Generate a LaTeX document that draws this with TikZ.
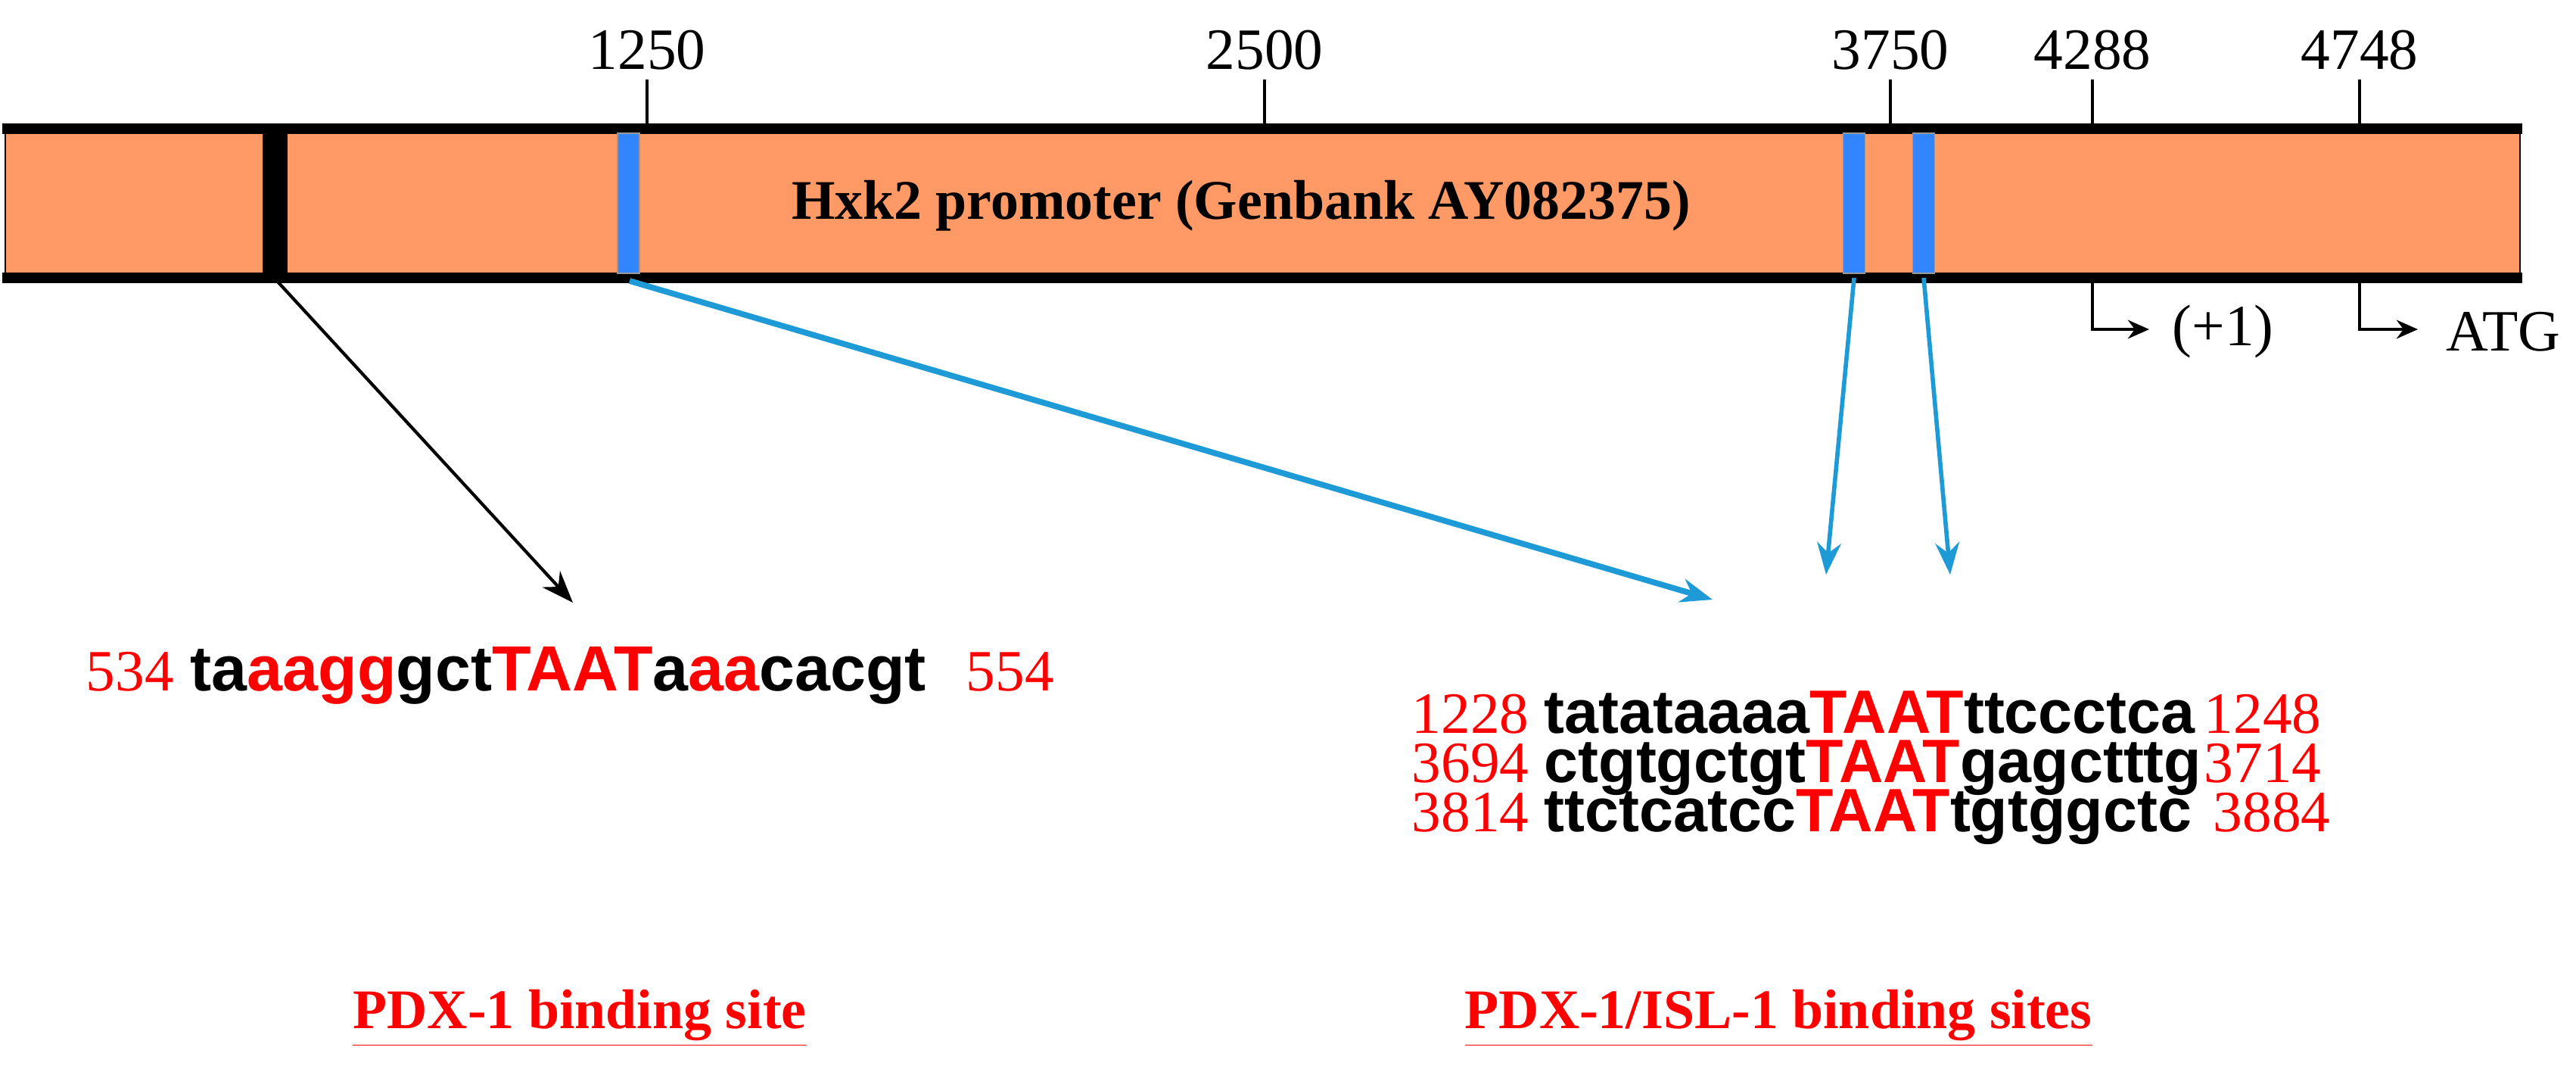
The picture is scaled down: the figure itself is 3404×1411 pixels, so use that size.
\documentclass[tikz,border=0pt]{standalone}
\usepackage{fontspec}
\usetikzlibrary{arrows.meta}
\setmainfont{Liberation Serif}
\setsansfont{Liberation Sans}
\begin{document}
\begin{tikzpicture}[x=0.01cm,y=-0.01cm,
  num/.style={font=\fontsize{22}{24}\selectfont, inner sep=0},
  rnum/.style={font=\fontsize{22}{24}\selectfont, text=red, inner sep=0},
  seq/.style={font=\sffamily\bfseries\fontsize{23}{26}\selectfont, inner sep=0},
  tick/.style={line width=1.3pt},
  blu/.style={draw=black!40, fill=blue!60!cyan!80, line width=0.3pt},
  ptr/.style={-{Stealth[length=12pt,width=9pt]}}]
\useasboundingbox (0,0) rectangle (3404,1411);
\definecolor{org}{HTML}{FF9966}
\definecolor{arblue}{HTML}{1E9BD7}
% bar
\fill[org] (7,170) rectangle (3330,367);
\draw[line width=0.6pt] (7,170) -- (7,367) (3330,170) -- (3330,367);
\draw[line width=4pt] (3,170) -- (3333,170) (3,367) -- (3333,367);
\fill[black] (347,170) rectangle (380,367);
\draw[blu] (816,176) rectangle (845,361);
\draw[blu] (2435,176) rectangle (2464,361);
\draw[blu] (2527,176) rectangle (2556,361);
\node[font=\bfseries\fontsize{21}{23}\selectfont] (t) at (1640,272) {Hxk2 promoter (Genbank AY082375)};
% ticks
\foreach \x/\l in {855/1250,1671/2500,2498/3750,2765/4288,3118/4748}{
  \coordinate (tk\l) at (\x,166);
  \draw[tick] (\x,105) -- (tk\l);
  \node[num] at (\x,66) {\l};
}
% start sites
\coordinate (s1) at (2765,371);
\coordinate (s2) at (3118,371);
\coordinate (e1) at (2840,435);
\coordinate (e2) at (3195,435);
\draw[line width=1.3pt,-{Stealth[length=8pt,width=7pt]}] (s1) |- (e1);
\draw[line width=1.3pt,-{Stealth[length=8pt,width=7pt]}] (s2) |- (e2);
\node[num,anchor=west] at (2870,438) {(+1)};
\node[num,anchor=west] at (3232,438) {ATG};
% connectors
\coordinate (b0) at (366,371);
\coordinate (b1) at (832,371);
\coordinate (b2) at (2450,367);
\coordinate (b3) at (2542,367);
\coordinate (a0) at (757,796);
\coordinate (a1) at (2263,792);
\coordinate (a2) at (2413,759);
\coordinate (a3) at (2577,759);
\draw[ptr,black,line width=1.2pt] (b0) -- (a0);
\draw[ptr,arblue,line width=2.2pt] (b1) -- (a1);
\draw[ptr,arblue,line width=1.6pt] (b2) -- (a2);
\draw[ptr,arblue,line width=1.6pt] (b3) -- (a3);
% left seq
\node[rnum,anchor=base west] (n1) at (113,912) {534};
\node[seq,anchor=base west,font=\sffamily\bfseries\fontsize{24}{26}\selectfont] (q1) at (251,912) {ta\textcolor{red}{aagg}gct\textcolor{red}{TAAT}a\textcolor{red}{aa}cacgt};
\node[rnum,anchor=base west] at (1276,912) {554};
% right seqs
\node[rnum,anchor=base west] at (1865,968) {1228};
\node[seq,anchor=base west] at (2040,968) {tatataaaa\textcolor{red}{TAAT}ttccctca};
\node[rnum,anchor=base west] at (2912,968) {1248};
\node[rnum,anchor=base west] at (1865,1033) {3694};
\node[seq,anchor=base west] at (2040,1033) {ctgtgctgt\textcolor{red}{TAAT}gagctttg};
\node[rnum,anchor=base west] at (2912,1033) {3714};
\node[rnum,anchor=base west] at (1865,1098) {3814};
\node[seq,anchor=base west] at (2040,1098) {ttctcatcc\textcolor{red}{TAAT}tgtggctc};
\node[rnum,anchor=base west] at (2924,1098) {3884};
% titles
\node[font=\bfseries\fontsize{21}{23}\selectfont, text=red] at (766,1345) {\underline{PDX-1 binding site}};
\node[font=\bfseries\fontsize{21}{23}\selectfont, text=red] at (2350,1345) {\underline{PDX-1/ISL-1 binding sites}};
\end{tikzpicture}
\end{document}
